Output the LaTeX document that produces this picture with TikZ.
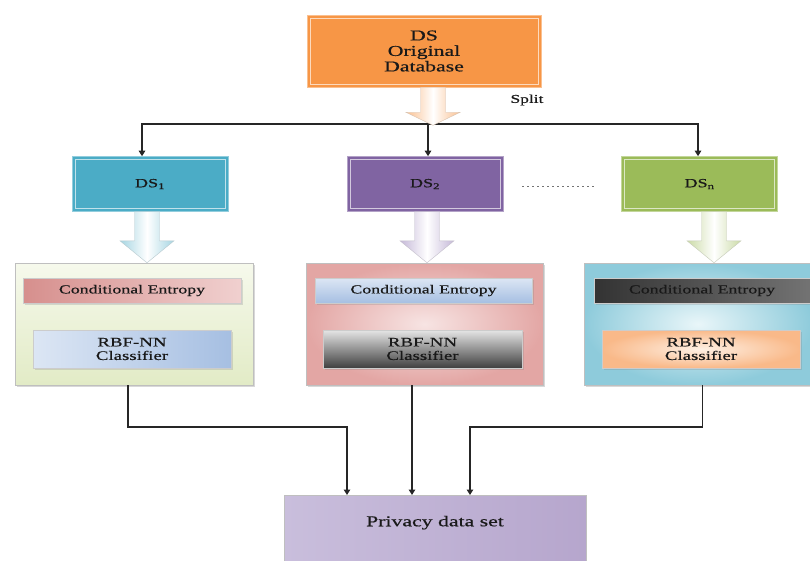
\documentclass[tikz,border=0pt]{standalone}
\usepackage{fontspec}
\setmainfont{Liberation Serif}[FakeStretch=1.45,FakeBold=0.6]
\usetikzlibrary{arrows.meta,shadows}

\definecolor{origorange}{HTML}{F79646}
\definecolor{dsteal}{HTML}{4BACC6}
\definecolor{dspurple}{HTML}{8064A2}
\definecolor{dsgreen}{HTML}{9BBB59}
% fat arrows
\definecolor{arrorange}{HTML}{FAC090}
\definecolor{arrteal}{HTML}{A5D5E2}
\definecolor{arrpurple}{HTML}{C5B8D8}
\definecolor{arrgreen}{HTML}{CBDBA6}
% group boxes
\definecolor{grpgreenA}{HTML}{F6F9EC}
\definecolor{grpgreenB}{HTML}{E2EBC6}
\definecolor{grppinkA}{HTML}{F7E4E3}
\definecolor{grppinkB}{HTML}{E3A6A4}
\definecolor{grpcyanA}{HTML}{E9F6F9}
\definecolor{grpcyanB}{HTML}{8ECBDB}
% inner boxes
\definecolor{redA}{HTML}{D68F8D}
\definecolor{redB}{HTML}{F0D0CF}
\definecolor{blueA}{HTML}{DCE6F4}
\definecolor{blueB}{HTML}{A6BFE2}
\definecolor{peachA}{HTML}{FEF0E4}
\definecolor{peachB}{HTML}{F9B989}
\definecolor{lavA}{HTML}{C9BEDC}
\definecolor{lavB}{HTML}{F0EDF5}
\definecolor{lavC}{HTML}{B6A6CD}

% block arrow hanging from a point: anchor, length, head length, colour
\newcommand{\blockarrow}[4]{%
  \shadedraw[draw=#4!70!black!50, line width=0.4pt, left color=#4, right color=#4,
    middle color=white, shift={(#1)}]
    (-12.5,0) -- (-12.5,#2-#3) -- (-27,#2-#3) -- (0,#2) -- (27,#2-#3)
    -- (12.5,#2-#3) -- (12.5,0) -- cycle;}

\begin{document}
\begin{tikzpicture}[x=1pt,y=-1pt,
  txt/.style={text=black!90},
  dsbox/.style={draw=#1!60!white, line width=0.6pt, fill=#1, minimum width=156pt,
    minimum height=55pt, txt, font=\fontsize{12.5}{14}\selectfont,
    path picture={\draw[#1!35!white, line width=0.7pt]
      ([shift={(3pt,-3pt)}]path picture bounding box.north west) rectangle
      ([shift={(-3pt,3pt)}]path picture bounding box.south east);}},
  groupbox/.style={draw=black!25, line width=0.5pt, minimum width=#1, minimum height=122pt,
    drop shadow={shadow xshift=2pt, shadow yshift=-2pt, opacity=0.3}},
  innerbox/.style={draw=black!20, line width=0.4pt, txt,
    drop shadow={shadow xshift=1.5pt, shadow yshift=-1.5pt, opacity=0.25}},
  entropy/.style={innerbox, minimum height=25pt, font=\fontsize{12.3}{14}\selectfont},
  rbf/.style={innerbox, minimum height=38pt, align=center, font=\fontsize{13}{13.5}\selectfont},
  flow/.style={draw=black!85, line width=1.2pt, -{Triangle[length=5.5pt,width=6.5pt]}},
]
\useasboundingbox (0,0) rectangle (810,561);
\fill[white] (0,0) rectangle (810,561);
\clip (0,0) rectangle (810,561);

% source and its parts
\node[dsbox=origorange, minimum width=234pt, minimum height=72pt, align=center,
  font=\fontsize{15}{15.5}\selectfont] (orig) at (424,51) {DS\\Original\\Database};
\node[txt, font=\fontsize{12}{12}\selectfont] (split) at (527,100) {Split};

\node[dsbox=dsteal] (ds1) at (150,184) {DS\textsubscript{1}};
\node[dsbox=dspurple] (ds2) at (425,184) {DS\textsubscript{2}};
\node[dsbox=dsgreen] (dsn) at (699.5,184) {DS\textsubscript{n}};
\draw[black!55, line width=0.8pt, dash pattern=on 1.5pt off 3.5pt]
  ([xshift=19pt,yshift=-2pt]ds2.east) -- ([xshift=-27pt,yshift=-2pt]dsn.west);

% one group per part
\node[groupbox=238pt, top color=grpgreenA, bottom color=grpgreenB] (grp1) at (134,324) {};
\node[groupbox=237pt, inner color=grppinkA, outer color=grppinkB] (grp2) at (424.5,324) {};
\node[groupbox=228pt, inner color=grpcyanA, outer color=grpcyanB] (grp3) at (698,324) {};

\node[entropy, minimum width=218pt, left color=redA, right color=redB] (ent1) at (132,290.5) {Conditional Entropy};
\node[rbf, minimum width=198pt, left color=blueA, right color=blueB] (rbf1) at (132,349) {RBF-NN\\Classifier};

\node[entropy, minimum width=217pt, top color=blueA, bottom color=blueB] (ent2) at (423.5,290.5) {Conditional Entropy};
\node[rbf, minimum width=199pt, top color=black!10, middle color=black!35, bottom color=black!75] (rbf2) at (422.5,349) {RBF-NN\\Classifier};

\node[entropy, minimum width=216pt, left color=black!80, middle color=black!22, right color=black!55] (ent3) at (702,290.5) {Conditional Entropy};
\node[rbf, minimum width=198pt, inner color=peachA, outer color=peachB] (rbf3) at (701,349) {RBF-NN\\Classifier};

% result
\node[draw=black!25, line width=0.5pt, minimum width=302pt, anchor=north, inner ysep=0pt,
  text height=31pt, text depth=74pt, txt, font=\fontsize{15}{15}\selectfont,
  left color=lavA, middle color=lavB, right color=lavC] (priv) at (435,495) {Privacy data set};

% split lines
\coordinate (fork) at (428,124);
\draw[flow] (fork) -| ([xshift=-8pt]ds1.north);
\draw[flow] (fork) -- (fork |- ds2.north);
\draw[flow] (fork) -| ([xshift=-1.5pt]dsn.north);

% fat arrows
\coordinate (a0) at ([xshift=9pt]orig.south);
\coordinate (a1) at ([xshift=-3pt]ds1.south);
\coordinate (a2) at ([xshift=2pt]ds2.south);
\coordinate (a3) at ([xshift=14.5pt]dsn.south);
\blockarrow{a0}{38}{13}{arrorange}
\blockarrow{a1}{51}{22}{arrteal}
\blockarrow{a2}{51}{22}{arrpurple}
\blockarrow{a3}{51}{22}{arrgreen}

% merge lines
\coordinate (g1out) at ([xshift=-6pt]grp1.south);
\coordinate (g2out) at ([xshift=-12.5pt]grp2.south);
\coordinate (g3out) at ([xshift=4.5pt]grp3.south);
\coordinate (j1) at (347,427);
\coordinate (j3) at (470,427);
\draw[flow] (g1out) |- (j1) -- (j1 |- priv.north);
\draw[flow] (g2out) -- (g2out |- priv.north);
\draw[flow] (g3out) |- (j3) -- (j3 |- priv.north);
\end{tikzpicture}
\end{document}
